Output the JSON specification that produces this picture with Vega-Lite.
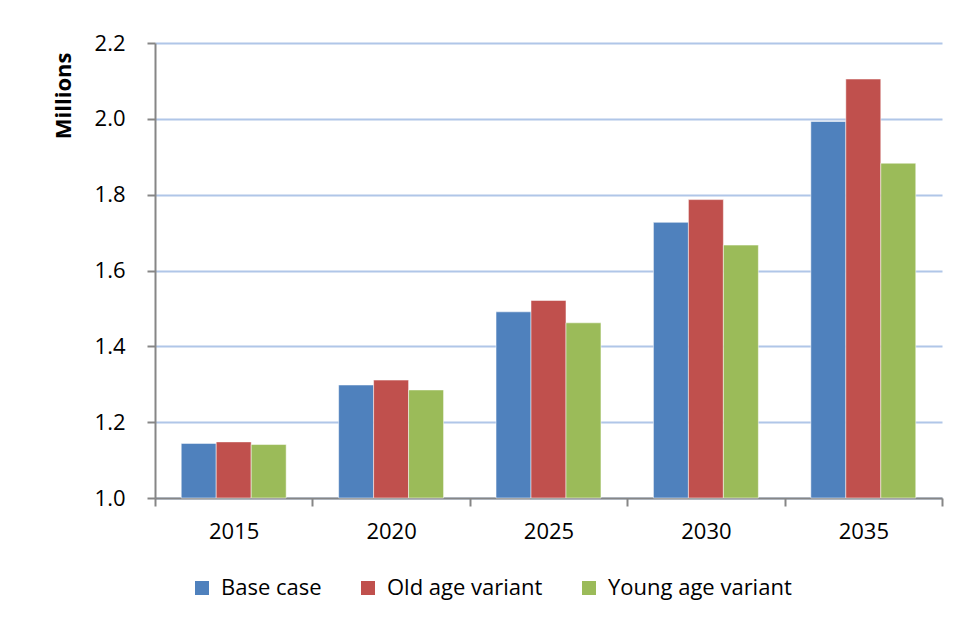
{
  "$schema": "https://vega.github.io/schema/vega-lite/v6.json",
  "width": 787,
  "height": 455,
  "autosize": {"type": "none"},
  "padding": {"left": 155, "top": 43, "right": 15, "bottom": 124},
  "background": "white",
  "config": {"view": {"stroke": null}, "font": "Open Sans"},
  "data": {
    "values": [
      {"year": "2015", "series": "Base case", "value": 1.144},
      {"year": "2015", "series": "Old age variant", "value": 1.148},
      {"year": "2015", "series": "Young age variant", "value": 1.141},
      {"year": "2020", "series": "Base case", "value": 1.298},
      {"year": "2020", "series": "Old age variant", "value": 1.311},
      {"year": "2020", "series": "Young age variant", "value": 1.285},
      {"year": "2025", "series": "Base case", "value": 1.491},
      {"year": "2025", "series": "Old age variant", "value": 1.521},
      {"year": "2025", "series": "Young age variant", "value": 1.462},
      {"year": "2030", "series": "Base case", "value": 1.727},
      {"year": "2030", "series": "Old age variant", "value": 1.787},
      {"year": "2030", "series": "Young age variant", "value": 1.667},
      {"year": "2035", "series": "Base case", "value": 1.993},
      {"year": "2035", "series": "Old age variant", "value": 2.105},
      {"year": "2035", "series": "Young age variant", "value": 1.883}
    ]
  },
  "mark": {"type": "bar", "stroke": "white", "strokeWidth": 1, "strokeOpacity": 0.5},
  "encoding": {
    "x": {
      "field": "year",
      "type": "nominal",
      "scale": {"paddingInner": 0, "paddingOuter": 0},
      "axis": {
        "title": null,
        "labelAngle": 0,
        "tickBand": "extent",
        "tickSize": 8,
        "tickColor": "#868686",
        "tickWidth": 2,
        "domainColor": "#868686",
        "domainWidth": 2,
        "labelFontSize": 22,
        "labelColor": "black",
        "labelPadding": 15
      }
    },
    "xOffset": {
      "field": "series",
      "type": "nominal",
      "sort": ["Base case", "Old age variant", "Young age variant"],
      "scale": {"paddingInner": 0, "paddingOuter": 0.75}
    },
    "y": {
      "field": "value",
      "type": "quantitative",
      "scale": {"domain": [1, 2.2], "nice": false, "zero": false},
      "axis": {
        "values": [1, 1.2, 1.4, 1.6, 1.8, 2, 2.2],
        "format": ".1f",
        "tickSize": 8,
        "tickColor": "#868686",
        "tickWidth": 2,
        "domainColor": "#868686",
        "domainWidth": 2,
        "labelFontSize": 22,
        "labelColor": "black",
        "labelPadding": 22,
        "grid": true,
        "gridColor": "#B0C6E8",
        "gridWidth": 2,
        "title": "Millions",
        "titleFontSize": 22,
        "titleFontWeight": "bold",
        "titleColor": "black",
        "titleAngle": -90,
        "titleAlign": "right",
        "titleBaseline": "alphabetic",
        "titleX": -85,
        "titleY": 9
      }
    },
    "y2": {"datum": 1},
    "color": {
      "field": "series",
      "type": "nominal",
      "sort": ["Base case", "Old age variant", "Young age variant"],
      "scale": {
        "domain": ["Base case", "Old age variant", "Young age variant"],
        "range": ["#4F81BD", "#C0504D", "#9BBB59"]
      },
      "legend": {
        "title": null,
        "orient": "none",
        "legendX": 36,
        "legendY": 534,
        "direction": "horizontal",
        "symbolType": "square",
        "symbolSize": 196,
        "symbolStrokeWidth": 0,
        "labelFontSize": 22,
        "labelColor": "black",
        "labelLimit": 0,
        "columnPadding": 35,
        "labelOffset": 8
      }
    }
  }
}
